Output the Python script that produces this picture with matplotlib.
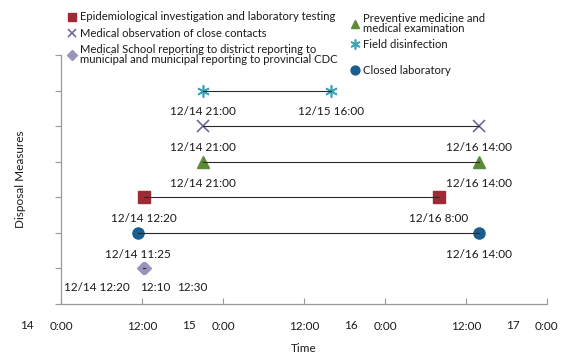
import matplotlib.pyplot as plt
from matplotlib.lines import Line2D
from matplotlib.transforms import blended_transform_factory

plt.rcParams['font.family'] = ['Lato', 'DejaVu Sans']

# hours counted from 12/14 0:00
tick_hours = [0, 12, 24, 36, 48, 60, 72]
tick_labels = ["0:00", "12:00", "0:00", "12:00", "0:00", "12:00", "0:00"]
day_hours = [0, 24, 48, 72]
day_names = ["14", "15", "16", "17"]

disinf = [21, 40]
disinf_lab = ["12/14 21:00", "12/15 16:00"]
observ = [21, 62]
observ_lab = ["12/14 21:00", "12/16 14:00"]
prevent = [21, 62]
prevent_lab = ["12/14 21:00", "12/16 14:00"]
epidem = [12 + 20 / 60, 56]
epidem_lab = ["12/14 12:20", "12/16 8:00"]
closed = [11 + 25 / 60, 62]
closed_lab = ["12/14 11:25", "12/16 14:00"]
report = [12 + 10 / 60, 12 + 20 / 60, 12 + 30 / 60]
report_lab = ["12/14 12:20", "12:10", "12:30"]
report_lab_x = [5.3, 13.9, 19.4]

names = {
    "epidem": "Epidemiological investigation and laboratory testing",
    "observ": "Medical observation of close contacts",
    "report": "Medical School reporting to district reporting to\nmunicipal and municipal reporting to provincial CDC",
    "prevent": "Preventive medicine and\nmedical examination",
    "disinf": "Field disinfection",
    "closed": "Closed laboratory",
}

star = (6, 2, 0)
styles = {
    "epidem": dict(marker="s", ms=8, mfc="#9e2a35", mec="#9e2a35", mew=1),
    "observ": dict(marker="x", ms=8, mfc="none", mec="#6e6a9c", mew=1.2),
    "report": dict(marker="D", ms=6, mfc="#9a93bb", mec="#9a93bb", mew=1),
    "prevent": dict(marker="^", ms=8, mfc="#5b8c35", mec="#5b8c35", mew=1),
    "disinf": dict(marker=star, ms=9, mfc="none", mec="#3aa6b6", mew=1.2),
    "closed": dict(marker="o", ms=8, mfc="#1a5d8f", mec="#1a5d8f", mew=1),
}

rows = [
    ("report", report, None, 1),
    ("closed", closed, closed_lab, 2),
    ("epidem", epidem, epidem_lab, 3),
    ("prevent", prevent, prevent_lab, 4),
    ("observ", observ, observ_lab, 5),
    ("disinf", disinf, disinf_lab, 6),
]

fig = plt.figure(figsize=(5.73, 3.59), dpi=100)
ax = fig.add_axes([0.1065, 0.1532, 0.848, 0.6936])

lab_size = 8.5
for key, xs, labs, y in rows:
    ax.plot(xs, [y] * len(xs), ls="none", zorder=2, **styles[key])
    ax.plot(xs, [y] * len(xs), color="#2a2a2a", lw=0.8, zorder=3)
    if labs is not None:
        for x, t in zip(xs, labs):
            ax.text(x, y - 0.6, t, ha="center", va="center", fontsize=lab_size, color="#1a1a1a")

for x, t in zip(report_lab_x, report_lab):
    ax.text(x, 1 - 0.55, t, ha="center", va="center", fontsize=lab_size, color="#1a1a1a")

ax.set_xlim(0, 72)
ax.set_ylim(0, 7)
ax.set_xticks(tick_hours)
ax.set_xticklabels(tick_labels, fontsize=lab_size, color="#1a1a1a")
ax.set_yticks(range(8))
ax.set_yticklabels([])
ax.tick_params(axis="x", direction="in", length=4, color="#999999", pad=12)
ax.tick_params(axis="y", direction="out", length=4, color="#999999")

tr = blended_transform_factory(ax.transData, ax.transAxes)
for h, d in zip(day_hours, day_names):
    ax.text(h - 5, -0.088, d, transform=tr, ha="center", va="center", fontsize=lab_size, color="#1a1a1a")

for s in ["top", "right"]:
    ax.spines[s].set_visible(False)
for s in ["left", "bottom"]:
    ax.spines[s].set_color("#999999")
    ax.spines[s].set_linewidth(0.9)

ax.set_xlabel("Time", fontsize=lab_size, labelpad=8, color="#1a1a1a")
ax.set_ylabel("Disposal Measures", fontsize=lab_size, labelpad=18, color="#1a1a1a")


def handle(key):
    st = dict(styles[key])
    st["ms"] = st["ms"] * 0.8
    return Line2D([], [], ls="none", **st)


leg_kw = dict(frameon=False, fontsize=8.1, handlelength=0.8, handletextpad=0.3,
              borderaxespad=0, borderpad=0, labelspacing=0.45)
left_keys = ["epidem", "observ", "report"]
leg1 = fig.legend([handle(k) for k in left_keys], [names[k] for k in left_keys],
                  loc="upper left", bbox_to_anchor=(0.118, 0.968), **leg_kw)
right_keys = ["prevent", "disinf"]
leg2 = fig.legend([handle(k) for k in right_keys], [names[k] for k in right_keys],
                  loc="upper left", bbox_to_anchor=(0.612, 0.965), **leg_kw)
leg3 = fig.legend([handle("closed")], [names["closed"]],
                  loc="upper left", bbox_to_anchor=(0.612, 0.820), **leg_kw)
for leg in (leg1, leg2, leg3):
    for t in leg.get_texts():
        t.set_linespacing(0.95)
        t.set_color("#1a1a1a")

fig.savefig("out.png", dpi=100)
